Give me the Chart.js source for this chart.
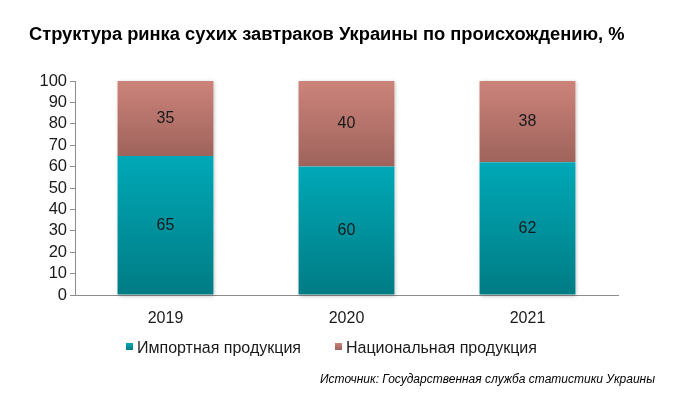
<!DOCTYPE html>
<html>
<head>
<meta charset="utf-8">
<script src="https://cdn.jsdelivr.net/npm/chart.js@4.4.0/dist/chart.umd.min.js"></script>
<style>
  html, body { margin: 0; padding: 0; background: #fff; }
  #wrap { width: 681px; height: 396px; position: relative; }
</style>
</head>
<body>
<div id="wrap"><canvas id="chart"></canvas></div>
<script>
// данные
const years = ['2019', '2020', '2021'];
const importShare = [65, 60, 62];
const nationalShare = [35, 40, 38];
const yTicks = [0, 10, 20, 30, 40, 50, 60, 70, 80, 90, 100];

const titleText = 'Структура ринка сухих завтраков Украины по происхождению, %';
const sourceText = 'Источник: Государственная служба статистики Украины';

Chart.defaults.font.family = '"Liberation Sans", Arial, sans-serif';
Chart.defaults.color = '#1a1a1a';

// градиент сегмента: светлый сверху, тёмный снизу
function segmentGradient(ctx, top, bottom) {
    const chart = ctx.chart;
    const y = chart.scales.y;
    if (!y || !chart.chartArea) return top;
    const i = ctx.dataIndex;
    let base = 0;
    for (let d = 0; d < ctx.datasetIndex; d++) base += chart.data.datasets[d].data[i];
    const v = chart.data.datasets[ctx.datasetIndex].data[i];
    const y0 = y.getPixelForValue(base + v);
    const y1 = y.getPixelForValue(base);
    if (!isFinite(y0) || !isFinite(y1)) return top;
    const g = chart.ctx.createLinearGradient(0, y0, 0, y1);
    g.addColorStop(0, top);
    g.addColorStop(1, bottom);
    return g;
}

const extras = {
    id: 'extras',
    beforeDatasetsDraw(chart) {
        // лёгкая тень под столбиками
        const c = chart.ctx;
        c.save();
        c.shadowColor = 'rgba(0,0,0,0.25)';
        c.shadowBlur = 4;
        c.shadowOffsetX = 1;
        c.shadowOffsetY = 1;
        chart.getDatasetMeta(0).data.forEach((bar, i) => {
            const top = chart.scales.y.getPixelForValue(100);
            c.fillStyle = '#fff';
            c.fillRect(bar.x - bar.width / 2, top, bar.width, bar.base - top);
        });
        c.restore();
    },
    afterDraw(chart) {
        const c = chart.ctx;
        c.save();
        // подписи значений
        c.font = '16px "Liberation Sans", Arial, sans-serif';
        c.fillStyle = '#1a1a1a';
        c.textAlign = 'center';
        c.textBaseline = 'middle';
        chart.data.datasets.forEach((ds, d) => {
            chart.getDatasetMeta(d).data.forEach((bar, i) => {
                c.fillText(String(ds.data[i]), bar.x, (bar.y + bar.base) / 2);
            });
        });
        // заголовок
        c.textAlign = 'left';
        c.textBaseline = 'alphabetic';
        c.font = 'bold 18.3px "Liberation Sans", Arial, sans-serif';
        c.fillStyle = '#000';
        c.fillText(titleText, 29, 40);
        // легенда
        c.font = '16px "Liberation Sans", Arial, sans-serif';
        c.fillStyle = '#1a1a1a';
        const items = [
            { x: 126, label: chart.data.datasets[0].label, top: '#00a8b7', bottom: '#007c84' },
            { x: 335, label: chart.data.datasets[1].label, top: '#cc837a', bottom: '#9e635c' }
        ];
        items.forEach(it => {
            const g = c.createLinearGradient(0, 343, 0, 350);
            g.addColorStop(0, it.top);
            g.addColorStop(1, it.bottom);
            c.fillStyle = g;
            c.fillRect(it.x, 343, 7, 7);
            c.fillStyle = '#1a1a1a';
            c.fillText(it.label, it.x + 11, 353);
        });
        // источник
        c.font = 'italic 12px "Liberation Sans", Arial, sans-serif';
        c.textAlign = 'right';
        c.fillStyle = '#000';
        c.fillText(sourceText, 655, 383);
        c.restore();
    }
};

new Chart(document.getElementById('chart'), {
    type: 'bar',
    data: {
        labels: years,
        datasets: [{
            label: 'Импортная продукция',
            data: importShare,
            backgroundColor: ctx => segmentGradient(ctx, '#00a8b7', '#007c84'),
            categoryPercentage: 1,
            barPercentage: 0.53,
        }, {
            label: 'Национальная продукция',
            data: nationalShare,
            backgroundColor: ctx => segmentGradient(ctx, '#cc837a', '#9e635c'),
            categoryPercentage: 1,
            barPercentage: 0.53,
        }]
    },
    options: {
        responsive: true,
        maintainAspectRatio: false,
        animation: false,
        layout: { padding: { left: 0, right: 63, top: 81, bottom: 71 } },
        plugins: {
            legend: { display: false },
            title: { display: false },
            tooltip: { enabled: false }
        },
        scales: {
            x: {
                stacked: true,
                grid: { display: false },
                border: { color: '#8c8c8c', width: 1 },
                ticks: { font: { size: 16 }, color: '#1a1a1a', padding: 6 },
                afterFit(s) { s.height = 30; }
            },
            y: {
                stacked: true,
                min: 0,
                max: 100,
                afterBuildTicks(s) { s.ticks = yTicks.map(v => ({ value: v })); },
                grid: { drawOnChartArea: false, tickLength: 5, color: '#8c8c8c' },
                border: { color: '#8c8c8c', width: 1 },
                ticks: { font: { size: 16.5 }, color: '#1a1a1a', padding: 3, autoSkip: false },
                afterFit(s) { s.width = 75; }
            }
        }
    },
    plugins: [extras]
});
</script>
</body>
</html>
